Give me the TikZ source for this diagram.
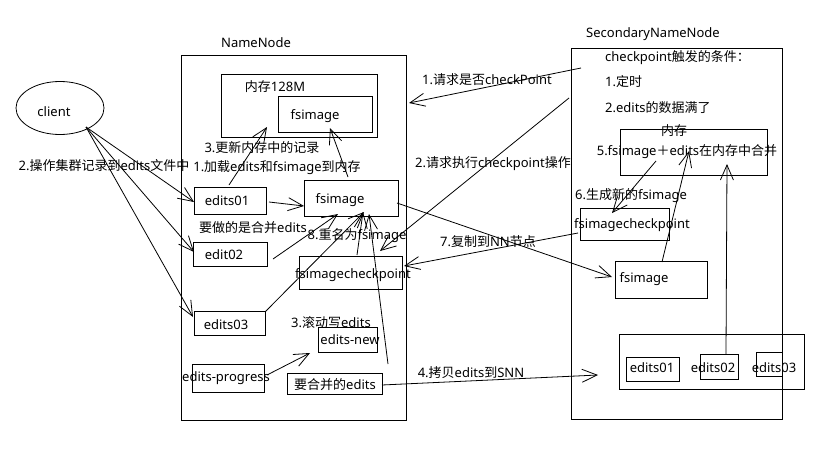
\documentclass[tikz,border=0pt]{standalone}
\usepackage{fontspec}
\setmainfont{Noto Sans}
\newfontfamily\cjk{Noto Sans CJK SC}
\usetikzlibrary{arrows.meta,shapes.geometric}
\newcommand{\zh}[1]{{\cjk #1}}
\newcommand{\mkbox}[5]{\node[bx, minimum width={(#4-#2)*1pt}, minimum height={(#5-#3)*1pt}] (#1) at (#2,#3) {};}
\begin{document}
\begin{tikzpicture}[x=1pt,y=-1pt,
  font=\fontsize{13}{15}\selectfont,
  bx/.style={draw, line width=0.9pt, inner sep=0pt, outer sep=0pt, anchor=north west},
  tx/.style={inner sep=0pt, anchor=center},
  lt/.style={inner sep=0pt, anchor=west},
  arr/.style={line width=0.8pt, -{Straight Barb[length=15pt,width=13pt,line width=0.8pt]}},
  ln/.style={line width=0.8pt}]
\useasboundingbox[fill=white] (0,0) rectangle (831,450);

% ---------- client ----------
\node[draw, ellipse, line width=0.8pt, minimum width=88pt, minimum height=53pt, inner sep=0pt] (client) at (60,108) {};
\node[tx] (clientt) at (54,112) {client};
\node[tx] (opt) at (104,166) {2.\zh{操作集群记录到}edits\zh{文件中}};

% ---------- NameNode ----------
\node[tx] (nnt) at (256,43) {NameNode};
\mkbox{nn}{181}{55}{406}{420}
\mkbox{mem}{221}{74}{377}{137}
\node[tx] (memt) at (275,87) {\zh{内存}128M};
\mkbox{fsa}{278}{96}{372}{132}
\node[tx] (fsat) at (315,116) {fsimage};
\node[tx] (upd) at (262,148) {3.\zh{更新内存中的记录}};
\node[tx] (load) at (277,168) {1.\zh{加载}edits\zh{和}fsimage\zh{到内存}};
\mkbox{ed1}{194}{187}{266}{214}
\node[tx] (ed1t) at (227,201) {edits01};
\mkbox{fs}{304}{180}{398}{216}
\node[tx] (fst) at (340,200) {fsimage};
\node[tx] (merge) at (253,228) {\zh{要做的是合并}edits};
\node[tx] (ren) at (357,236) {8.\zh{重名为}fsimage};
\mkbox{ed2}{193}{242}{267}{266}
\node[tx] (ed2t) at (224,255) {edit02};
\mkbox{fsc}{299}{256}{402}{289}
\node[tx] (fsct) at (353,275) {fsimagecheckpoint};
\mkbox{ed3}{194}{311}{265}{335}
\node[tx] (ed3t) at (226,325) {edits03};
\node[tx] (roll) at (331,323) {3.\zh{滚动写}edits};
\mkbox{edn}{318}{327}{377}{352}
\node[tx] (ednt) at (350,340) {edits-new};
\mkbox{edp}{192}{364}{264}{392}
\node[tx] (edpt) at (226,378) {edits-progress};
\mkbox{tom}{287}{373}{382}{394}
\node[tx] (tomt) at (335,385) {\zh{要合并的}edits};

% ---------- labels between ----------
\node[tx] (q1) at (487,80) {1.\zh{请求是否}checkPoint};
\node[tx] (q2) at (493,164) {2.\zh{请求执行}checkpoint\zh{操作}};
\node[tx] (q7) at (488,242) {7.\zh{复制到}NN\zh{节点}};
\node[tx] (q4) at (471,373) {4.\zh{拷贝}edits\zh{到}SNN};

% ---------- SecondaryNameNode ----------
\node[tx] (snnt) at (653,34) {SecondaryNameNode};
\mkbox{snn}{571}{48}{782}{419}
\node[lt] (cond) at (605,58) {checkpoint\zh{触发的条件：}};
\node[lt] (c1) at (605,82) {1.\zh{定时}};
\node[lt] (c2) at (605,108) {2.edits\zh{的数据满了}};
\mkbox{mem2}{620}{129}{767}{175}
\node[tx] (mem2t) at (674,131) {\zh{内存}};
\node[tx] (mg) at (687,152) {5.fsimage\zh{＋}edits\zh{在内存中合并}};
\node[tx] (gen) at (631,196) {6.\zh{生成新的}fsimage};
\mkbox{fsc2}{580}{208}{669}{240}
\node[tx] (fsc2t) at (632,225) {fsimagecheckpoint};
\mkbox{fs2}{615}{261}{707}{298}
\node[tx] (fs2t) at (644,279) {fsimage};
\mkbox{grp}{619}{334}{804}{389}
\mkbox{e1}{626}{357}{679}{381}
\node[tx] (e1t) at (652,368) {edits01};
\mkbox{e2}{700}{354}{738}{379}
\node[tx] (e2t) at (713,368) {edits02};
\mkbox{e3}{756}{352}{782}{376}
\node[tx] (e3t) at (774,368) {edits03};

% ---------- connector end points ----------
\coordinate (cl) at (86,127);
\coordinate (ed1in) at (194,202);
\coordinate (ed2in) at (194,252);
\coordinate (ed3in) at (193,317);
\coordinate (ed1r) at (269,202);
\coordinate (fsin) at (304,206);
\coordinate (ed1top) at (229,185);
\coordinate (memin) at (267,127);
\coordinate (fstop) at (348,177);
\coordinate (fsain) at (330,128);
\coordinate (ed2r) at (273,259);
\coordinate (fsb1) at (338,214);
\coordinate (ed3r) at (265,312);
\coordinate (fsb2) at (364,212);
\coordinate (fsctop) at (357,255);
\coordinate (fsb3) at (363,212);
\coordinate (tomtop) at (388,364);
\coordinate (fsb4) at (369,214);
\coordinate (edpr) at (267,375);
\coordinate (ednin) at (310,353);
\coordinate (tomr) at (382,385);
\coordinate (grpin) at (598,375);
\coordinate (s1) at (581,68);
\coordinate (n1) at (409,103);
\coordinate (s2) at (569,98);
\coordinate (n2) at (380,251);
\coordinate (fsc2l) at (578,233);
\coordinate (fscr) at (404,266);
\coordinate (fsr) at (397,203);
\coordinate (fs2l) at (612,277);
\coordinate (mem2a) at (656,161);
\coordinate (fsc2top) at (612,213);
\coordinate (fs2top) at (662,262);
\coordinate (mem2b) at (689,151);
\coordinate (e2top) at (726,354);
\coordinate (mem2c) at (727,164);

% ---------- connectors ----------
\draw[arr] (cl) -- (ed1in);
\draw[arr] (cl) -- (ed2in);
\draw[arr] (cl) -- (ed3in);
\draw[arr] (ed1r) -- (fsin);
\draw[arr] (ed1top) -- (memin);
\draw[arr] (fstop) -- (fsain);
\draw[arr] (ed2r) -- (fsb1);
\draw[arr] (ed3r) -- (fsb2);
\draw[arr] (fsctop) -- (fsb3);
\draw[arr] (tomtop) -- (fsb4);
\draw[arr] (edpr) -- (ednin);
\draw[arr] (tomr) -- (grpin);
\draw[arr] (s1) -- (n1);
\draw[arr] (s2) -- (n2);
\draw[arr] (fsc2l) -- (fscr);
\draw[arr] (fsr) -- (fs2l);
\draw[arr] (mem2a) -- (fsc2top);
\draw[arr] (fs2top) -- (mem2b);
\draw[arr] (e2top) -- (mem2c);
\end{tikzpicture}
\end{document}
